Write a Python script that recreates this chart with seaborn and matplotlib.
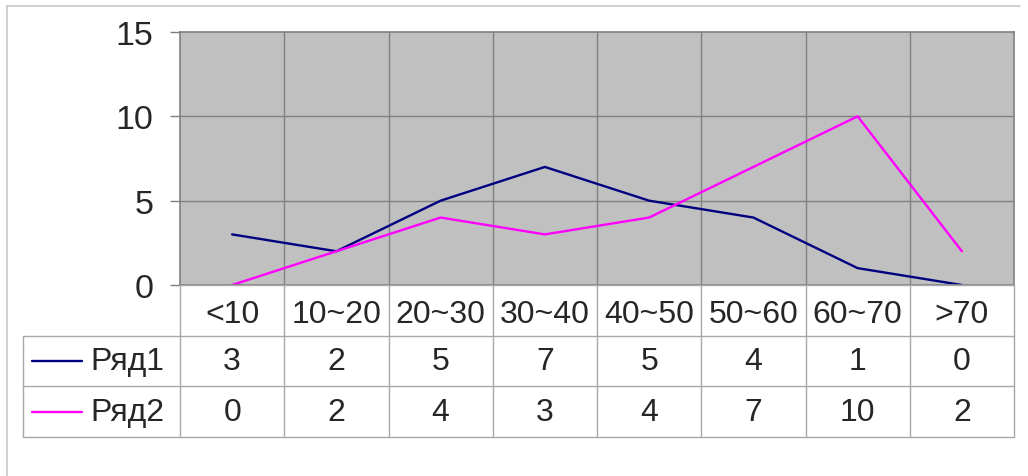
import pandas as pd
import numpy as np
import matplotlib.pyplot as plt
import seaborn as sns

categories = ['<10', '10~20', '20~30', '30~40', '40~50', '50~60', '60~70', '>70']
series_names = ['Ряд1', 'Ряд2']
row1 = [3, 2, 5, 7, 5, 4, 1, 0]
row2 = [0, 2, 4, 3, 4, 7, 10, 2]
yticks = [0, 5, 10, 15]
colors = ['#000080', '#ff00ff']

df = pd.DataFrame({
    'pos': list(range(len(categories))) * 2,
    'value': row1 + row2,
    'series': [series_names[0]] * len(row1) + [series_names[1]] * len(row2),
})

sns.set_style('white')
plt.rcParams['font.family'] = ['Liberation Sans', 'DejaVu Sans']

W, H = 1028, 477
fig = plt.figure(figsize=(W / 100, H / 100), dpi=100)

# outer frame
fig.add_artist(plt.Line2D([7 / W, 7 / W], [0, 1 - 7 / H], color='#c8c8c8', lw=1.2))
fig.add_artist(plt.Line2D([7 / W, 1020 / W], [1 - 7 / H, 1 - 7 / H], color='#c8c8c8', lw=1.2))

left, right, top, bottom = 180, 1014, 33, 286
ax = fig.add_axes([left / W, 1 - bottom / H, (right - left) / W, (bottom - top) / H])
ax.set_facecolor('#c0c0c0')
sns.lineplot(data=df, x='pos', y='value', hue='series', palette=colors,
             linewidth=1.7, legend=False, ax=ax)
n = len(categories)
ax.set_xlim(-0.5, n - 0.5)
ax.set_ylim(yticks[0], yticks[-1])
ax.set_yticks(yticks)
ax.set_yticklabels([str(t) for t in yticks], fontsize=24.5)
ax.set_xticks([])
ax.set_xlabel('')
ax.set_ylabel('')
for b in np.arange(0.5, n - 0.5, 1):
    ax.axvline(b, color='#808080', lw=1, zorder=0.5)
for t in yticks[1:-1]:
    ax.axhline(t, color='#808080', lw=1, zorder=0.5)
for s in ax.spines.values():
    s.set_color('#808080')
    s.set_linewidth(1.2)
    s.set_visible(True)
ax.tick_params(axis='y', length=7.2, width=1, color='#808080', pad=12, left=True)

# data table
tleft, tbottom = 23, 438
colw = (right - left) / n
x0 = -0.5 - (left - tleft) / colw
tax = fig.add_axes([tleft / W, 1 - tbottom / H, (right - tleft) / W, (tbottom - bottom) / H])
tax.set_xlim(x0, n - 0.5)
tax.set_ylim(3, 0)
tax.axis('off')
lc = '#a8a8a8'
# horizontal lines
tax.plot([-0.5, n - 0.5], [0, 0], color=lc, lw=1, clip_on=False)
for y in [1, 2, 3]:
    tax.plot([x0, n - 0.5], [y, y], color=lc, lw=1, clip_on=False)
# vertical lines
tax.plot([x0, x0], [1, 3], color=lc, lw=1, clip_on=False)
for b in np.arange(-0.5, n + 0.5, 1):
    tax.plot([b, b], [0, 3], color=lc, lw=1, clip_on=False)

fs = 23
for i, c in enumerate(categories):
    tax.text(i, 0.57, c, ha='center', va='center', fontsize=fs)
for r, (name, vals, col) in enumerate(zip(series_names, [row1, row2], colors)):
    yc = r + 1.5
    kx0 = x0 + (32 - tleft) / colw
    kx1 = x0 + (82 - tleft) / colw
    tax.plot([kx0, kx1], [yc, yc], color=col, lw=1.7)
    tax.text(x0 + (90 - tleft) / colw, yc, name, ha='left', va='center', fontsize=fs)
    for i, v in enumerate(vals):
        tax.text(i, yc, str(v), ha='center', va='center', fontsize=fs)

fig.savefig('out.png', dpi=100)
